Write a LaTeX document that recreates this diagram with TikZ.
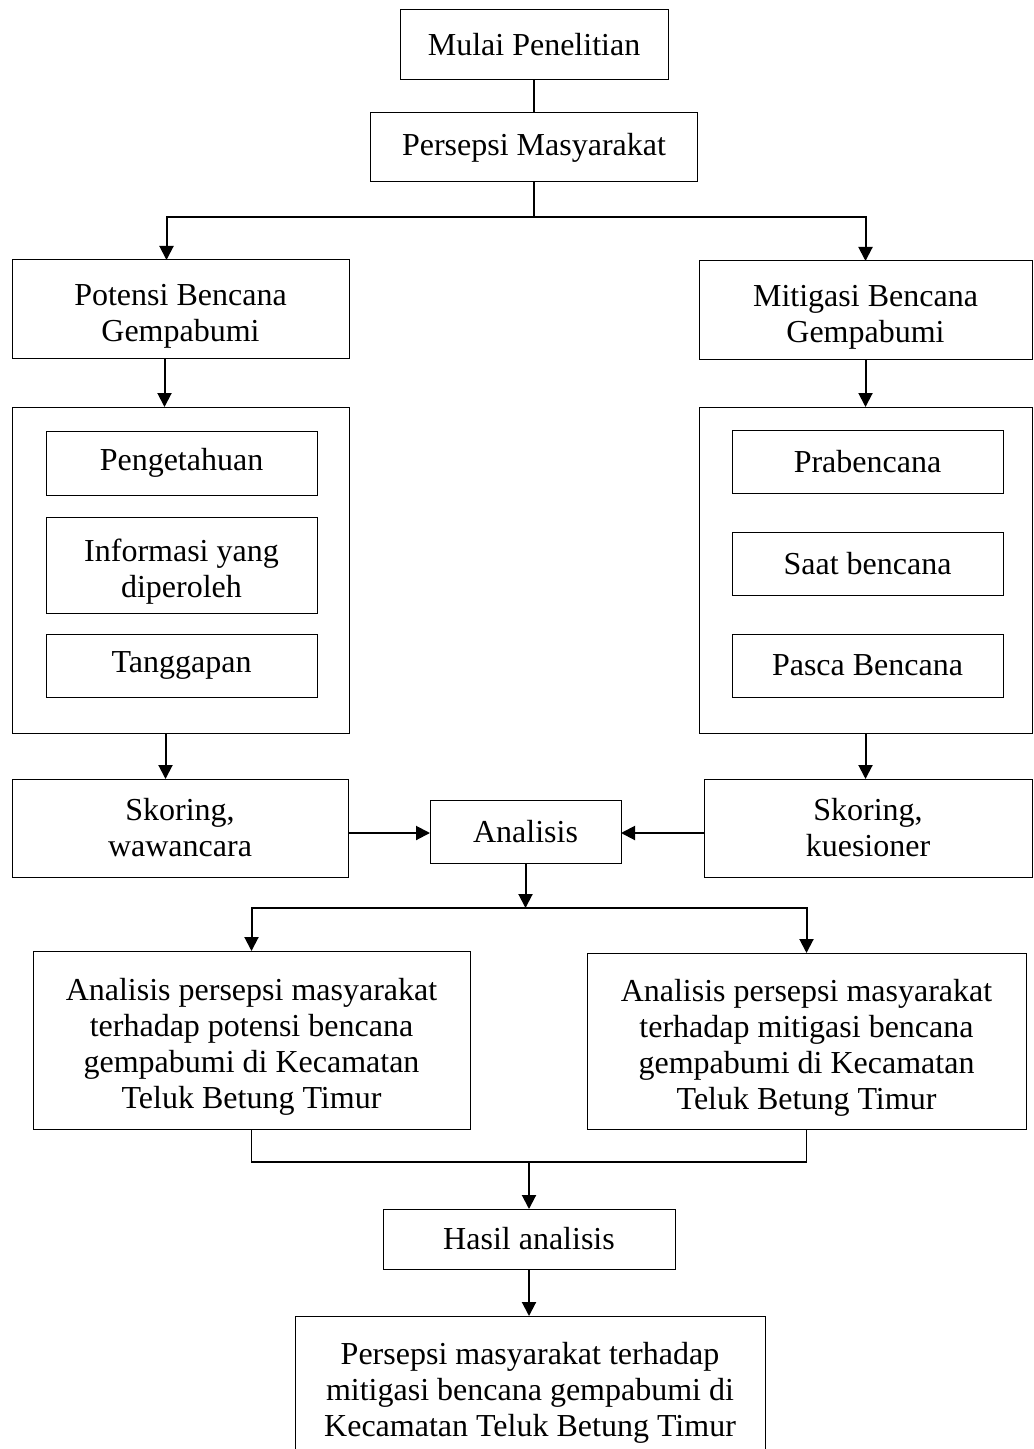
\documentclass[tikz,border=0pt]{standalone}
\usepackage{fontspec}
\setmainfont{Liberation Serif}
\usetikzlibrary{arrows.meta,positioning,calc}
\tikzset{
	box/.style={draw, line width=0.5pt, rectangle, align=center, inner sep=0pt, outer sep=0pt,
		font=\fontsize{16}{18}\selectfont},
	link/.style={line width=0.6pt},
	arrow/.style={line width=1pt, -{Triangle[length=7pt,width=7pt]}}
}
\newcommand{\topstrut}{\rule{0pt}{18pt}}

\begin{document}
\begin{tikzpicture}[x=0.5pt, y=-0.5pt]
				\useasboundingbox (0,0) rectangle (1033,1449);
				% top
				\node[box, minimum width=134pt, minimum height=35pt] (mulai) at (534,45) {Mulai Penelitian};
				\node[box, minimum width=163.5pt, minimum height=34.5pt] (persepsi) at (534,147.5) {Persepsi Masyarakat};
				
				% left branch
				\node[box, minimum width=168.5pt, minimum height=49pt] (potensi) at (180.5,309) {\topstrut Potensi Bencana\\ Gempabumi};
				\node[box, minimum width=168.5pt, minimum height=163pt] (potbox) at (180.5,570) {};
				\node[box, minimum width=135.5pt, minimum height=32pt] (tahu) at (181.5,463) {Pengetahuan};
				\node[box, minimum width=135.5pt, minimum height=48pt] (info) at (181.5,565) {\topstrut Informasi yang\\ diperoleh};
				\node[box, minimum width=135.5pt, minimum height=31.5pt] (tanggap) at (181.5,665.5) {Tanggapan};
				\node[box, minimum width=168pt, minimum height=49pt] (skorL) at (180,828) {Skoring,\\ wawancara};
				
				% right branch
				\node[box, minimum width=166.5pt, minimum height=49pt] (mitigasi) at (865.5,310) {\topstrut Mitigasi Bencana\\ Gempabumi};
				\node[box, minimum width=166.5pt, minimum height=163pt] (mitbox) at (865.5,570) {};
				\node[box, minimum width=135.5pt, minimum height=31.5pt] (pra) at (867.5,461.5) {Prabencana};
				\node[box, minimum width=135.5pt, minimum height=31.5pt] (saat) at (867.5,563.5) {Saat bencana};
				\node[box, minimum width=135.5pt, minimum height=31.5pt] (pasca) at (867.5,665.5) {Pasca Bencana};
				\node[box, minimum width=164pt, minimum height=49pt] (skorR) at (868,828) {Skoring,\\ kuesioner};
				
				% analysis
				\node[box, minimum width=95.5pt, minimum height=31.5pt] (analisis) at (525.5,831.5) {Analisis};
				\node[box, minimum width=218.5pt, minimum height=89pt] (hasilL) at (251.5,1040) {\topstrut Analisis persepsi masyarakat\\ terhadap potensi bencana\\ gempabumi di Kecamatan\\ Teluk Betung Timur};
				\node[box, minimum width=219.5pt, minimum height=88pt] (hasilR) at (806.5,1041) {\topstrut Analisis persepsi masyarakat\\ terhadap mitigasi bencana\\ gempabumi di Kecamatan\\ Teluk Betung Timur};
				\node[box, minimum width=146pt, minimum height=30pt] (hasil) at (529,1239) {Hasil analisis};
				% bottom edge runs off the page
				\node[box, minimum width=235pt, minimum height=77pt] (akhir) at (530,1393) {Persepsi masyarakat terhadap\\ mitigasi bencana gempabumi di\\ Kecamatan Teluk Betung Timur};
				
				\coordinate (split1) at (534,217);
				\coordinate (split2) at (525.5,908);
				\coordinate (join) at (529,1162);
				
				\draw[link] (mulai) -- (persepsi);
				\draw[link] (persepsi) -- (split1);
				\draw[arrow] (split1) -| ([xshift=-7pt]potensi.north);
				\draw[arrow] (split1) -| (mitigasi.north);
				\draw[arrow] ([xshift=-8pt]potensi.south) -- ([xshift=-8pt]potbox.north);
				\draw[arrow] (mitigasi.south) -- (mitbox.north);
				\draw[arrow] ([xshift=-7.5pt]potbox.south) -- ([xshift=-7.5pt]potbox.south |- skorL.north);
				\draw[arrow] (mitbox.south) -- (mitbox.south |- skorR.north);
				\draw[arrow] (skorL.east |- 0,833) -- (analisis.west |- 0,833);
				\draw[arrow] (skorR.west |- 0,833) -- (analisis.east |- 0,833);
				\draw[arrow] (analisis.south) -- (split2);
				\draw[arrow] (split2) -| (hasilL.north);
				\draw[arrow] (split2) -| (hasilR.north);
				\draw[link] (hasilL.south) |- (join) -| (hasilR.south);
				\draw[arrow] (join) -- (hasil.north);
				\draw[arrow] (hasil.south) -- (hasil.south |- akhir.north);
			\end{tikzpicture}
\end{document}
